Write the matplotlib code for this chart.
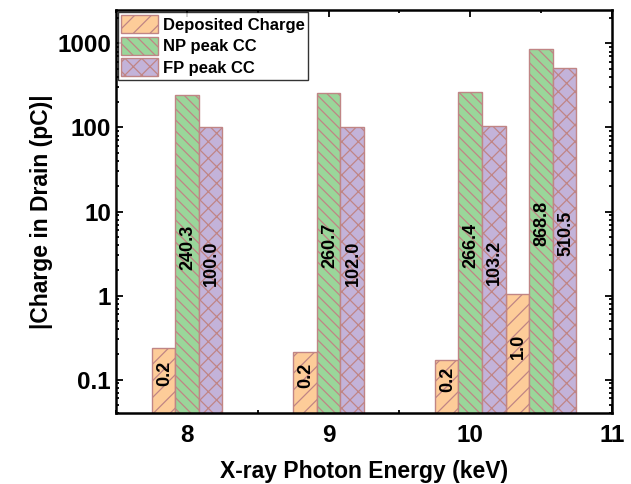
import matplotlib
matplotlib.use("Agg")
import matplotlib.pyplot as plt
import numpy as np
from matplotlib.ticker import FixedLocator, LogLocator, NullFormatter, FuncFormatter

plt.rcParams['font.family'] = ['Liberation Sans', 'DejaVu Sans']
plt.rcParams['font.weight'] = 'bold'
plt.rcParams['hatch.linewidth'] = 0.9

energies = [8, 9, 10, 10.5]
series_names = ["Deposited Charge", "NP peak CC", "FP peak CC"]
deposited = [0.24, 0.21, 0.17, 1.04]
np_peak = [240.3, 260.7, 266.4, 868.8]
fp_peak = [100.0, 102.0, 103.2, 510.5]
labels_dep = ["0.2", "0.2", "0.2", "1.0"]
labels_np = ["240.3", "260.7", "266.4", "868.8"]
labels_fp = ["100.0", "102.0", "103.2", "510.5"]
xticks = [8, 9, 10, 11]
yticks = [0.1, 1, 10, 100, 1000]

faces = ["#FDCC99", "#9AD69A", "#C3B3D9"]
hatches = ["//", "\\\\\\", "xx"]
edge = "#C08585"

fig = plt.figure(figsize=(6.31, 4.84), dpi=100)
ax = fig.add_axes([0.1838, 0.1467, 0.786, 0.8326])

w = 0.166
ylo, yhi = 0.04, 2500
x = np.array(energies, dtype=float)
all_vals = [deposited, np_peak, fp_peak]
all_labels = [labels_dep, labels_np, labels_fp]
for i, (vals, labs) in enumerate(zip(all_vals, all_labels)):
    xs = x + (i - 1) * w
    ax.bar(xs, vals, width=w, bottom=0, color=faces[i], edgecolor=edge,
           hatch=hatches[i], linewidth=1.0, label=series_names[i], zorder=2)
    for xi, v, lab in zip(xs, vals, labs):
        ym = np.sqrt(ylo * v)
        ax.annotate(lab, (xi, ym), xytext=(1, 7), textcoords='offset pixels',
                    rotation=90, ha='center', va='center', fontsize=13,
                    fontweight='bold', zorder=3)

ax.set_yscale('log')
ax.set_ylim(ylo, yhi)
ax.set_xlim(7.5, 11)
ax.xaxis.set_major_locator(FixedLocator(xticks))
ax.xaxis.set_minor_locator(FixedLocator([7.5, 8.5, 9.5, 10.5]))
ax.yaxis.set_major_locator(FixedLocator(yticks))
ax.yaxis.set_minor_locator(LogLocator(base=10, subs=np.arange(2, 10)))
ax.yaxis.set_minor_formatter(NullFormatter())
ax.yaxis.set_major_formatter(FuncFormatter(lambda v, p: f"{v:g}"))

ax.tick_params(which='both', direction='in', top=True, right=True,
               width=1.3, labelsize=17.5)
ax.tick_params(which='major', length=5)
ax.tick_params(which='minor', length=2.5)
ax.tick_params(axis='x', pad=8)
for sp in ax.spines.values():
    sp.set_linewidth(1.8)

ax.set_xlabel("X-ray Photon Energy (keV)", fontsize=16.5, fontweight='bold', labelpad=9)
ax.set_ylabel("|Charge in Drain (pC)|", fontsize=16.5, fontweight='bold', labelpad=3)

leg = ax.legend(loc='upper left', fontsize=12, frameon=True, fancybox=False,
                edgecolor='black', handlelength=2.2, handleheight=1.3,
                labelspacing=0.2, handletextpad=0.3, borderpad=0.2,
                borderaxespad=0.1)
leg.get_frame().set_linewidth(1.0)
for t in leg.get_texts():
    t.set_fontweight('bold')

fig.savefig("out.png", dpi=100)
